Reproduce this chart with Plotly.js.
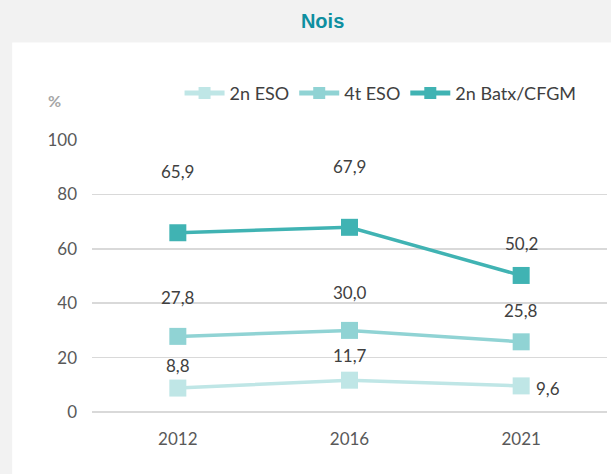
<!DOCTYPE html>
<html>
<head>
<meta charset="utf-8">
<script src="https://cdn.plot.ly/plotly-3.0.1.min.js"></script>
<style>
html,body{margin:0;padding:0;background:#f2f2f2;}
#chart{width:611px;height:474px;}
</style>
</head>
<body>
<div id="chart"></div>
<script>
const years = ["2012", "2016", "2021"];
const seriesNames = ["2n ESO", "4t ESO", "2n Batx/CFGM"];
const eso2 = [8.8, 11.7, 9.6];
const eso4 = [27.8, 30.0, 25.8];
const batx = [65.9, 67.9, 50.2];
const yTicks = [0, 20, 40, 60, 80, 100];

const colors = ["#bfe6e6", "#90d3d4", "#40b3b3"];
const allSeries = [eso2, eso4, batx];
const FONT = "Lato, 'Open Sans', sans-serif";

const traces = allSeries.map((vals, i) => ({
  type: "scatter",
  mode: "lines+markers",
  name: seriesNames[i],
  x: years,
  y: vals,
  line: {color: colors[i], width: 3.5},
  marker: {symbol: "square", size: 17, color: colors[i]},
  hoverinfo: "skip"
}));

// label offsets (pixels) per series per point
const shifts = [
  [[0, 23], [0, 25], [27, -3]],
  [[0, 39], [0, 38], [0, 31]],
  [[0, 61], [0, 61], [0, 32]]
];
const fmt = v => v.toFixed(1).replace(".", ",");
const annotations = [];
allSeries.forEach((vals, i) => {
  vals.forEach((v, j) => {
    annotations.push({
      x: j, y: v, xref: "x", yref: "y",
      text: fmt(v), showarrow: false,
      xshift: shifts[i][j][0], yshift: shifts[i][j][1],
      font: {family: FONT, size: 17, color: "#404040"}
    });
  });
});
annotations.push({
  xref: "paper", yref: "paper", x: -0.072, y: 1.145,
  xanchor: "center", yanchor: "middle",
  text: "<b>%</b>", showarrow: false,
  font: {family: FONT, size: 16, color: "#a6a6a6"}
});

const layout = {
  width: 611, height: 474,
  paper_bgcolor: "#f2f2f2",
  plot_bgcolor: "#ffffff",
  margin: {l: 92, r: 4, t: 140, b: 62},
  title: {
    text: "<b>Nois</b>",
    font: {family: "'Liberation Sans', Arial, sans-serif", size: 20, color: "#0e8fa0"},
    x: 0.528, xanchor: "center", y: 0.955, yanchor: "middle"
  },
  shapes: [{
    type: "rect", xref: "paper", yref: "paper",
    x0: -0.155, x1: 1.02, y0: -0.27, y1: 1.358,
    fillcolor: "#ffffff", line: {width: 0}, layer: "below"
  }],
  xaxis: {
    type: "category",
    range: [-0.5, 2.5],
    showgrid: false, zeroline: false, showline: false,
    ticks: "",
    tickfont: {family: FONT, size: 17, color: "#595959"},
    ticklabelstandoff: 15
  },
  yaxis: {
    range: [0, 100],
    tickvals: yTicks,
    ticktext: yTicks.map(String),
    showgrid: true, gridcolor: "#d9d9d9", gridwidth: 1.5,
    zeroline: true, zerolinecolor: "#d9d9d9", zerolinewidth: 1.5,
    showline: false, ticks: "",
    tickfont: {family: FONT, size: 17, color: "#595959"},
    ticklabelstandoff: 14
  },
  legend: {
    orientation: "h",
    x: 0.17, xanchor: "left", y: 1.172, yanchor: "middle",
    bgcolor: "rgba(0,0,0,0)",
    font: {family: FONT, size: 18, color: "#404040"},
    itemwidth: 40,
    itemsizing: "constant",
    tracegroupgap: 0
  },
  annotations: annotations,
  showlegend: true
};

Plotly.newPlot("chart", traces, layout, {displayModeBar: false, staticPlot: true});
</script>
</body>
</html>
